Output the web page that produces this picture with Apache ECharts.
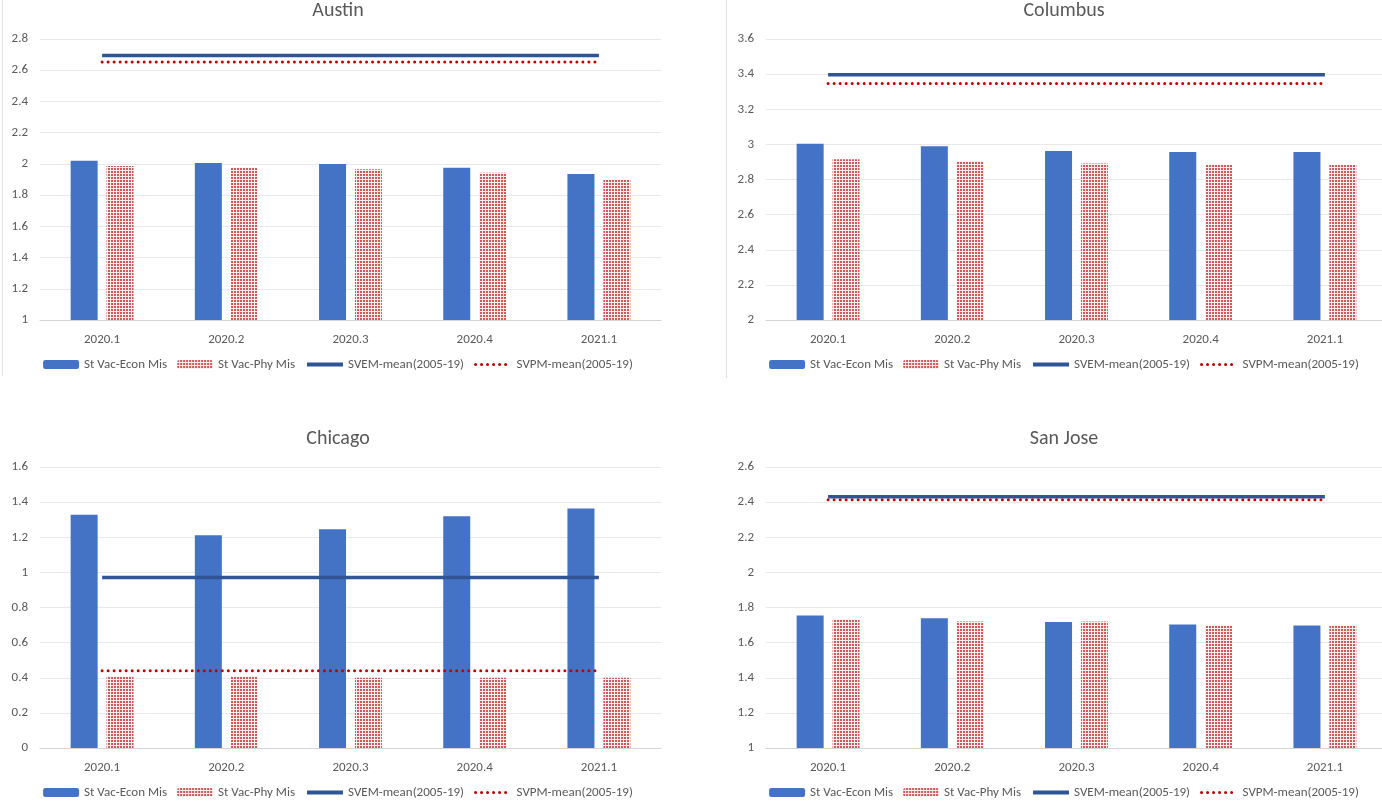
<!DOCTYPE html>
<html>
<head>
<meta charset="utf-8">
<script src="https://cdn.jsdelivr.net/npm/echarts@6/dist/echarts.min.js"></script>
<style>
html,body{margin:0;padding:0;width:1382px;height:804px;overflow:hidden;background:#fff;}
.panel{position:absolute;width:676px;height:376px;}
.border{position:absolute;width:1px;background:#e3e3e3;}
</style>
</head>
<body>
<div class="border" style="left:2px;top:0;height:376px;"></div>
<div class="border" style="left:726px;top:0;height:378px;"></div>
<div id="c1" class="panel" style="left:0;top:0;"></div>
<div id="c2" class="panel" style="left:726px;top:0;"></div>
<div id="c3" class="panel" style="left:0;top:428px;"></div>
<div id="c4" class="panel" style="left:726px;top:428px;"></div>
<script>
// ---- data ----
const categories = ['2020.1', '2020.2', '2020.3', '2020.4', '2021.1'];
const seriesNames = ['St Vac-Econ Mis', 'St Vac-Phy Mis', 'SVEM-mean(2005-19)', 'SVPM-mean(2005-19)'];

const austinEcon = [2.02, 2.005, 2.0, 1.975, 1.935];
const austinPhy  = [1.987, 1.976, 1.966, 1.944, 1.90];
const austinSVEM = [2.695, 2.695, 2.695, 2.695, 2.695];
const austinSVPM = [2.652, 2.652, 2.652, 2.652, 2.652];
const austinAxis = [1, 2.8, 0.2];

const columbusEcon = [3.004, 2.99, 2.962, 2.956, 2.956];
const columbusPhy  = [2.916, 2.905, 2.891, 2.882, 2.882];
const columbusSVEM = [3.396, 3.396, 3.396, 3.396, 3.396];
const columbusSVPM = [3.346, 3.346, 3.346, 3.346, 3.346];
const columbusAxis = [2, 3.6, 0.2];

const chicagoEcon = [1.328, 1.211, 1.245, 1.320, 1.364];
const chicagoPhy  = [0.408, 0.408, 0.400, 0.400, 0.400];
const chicagoSVEM = [0.971, 0.971, 0.971, 0.971, 0.971];
const chicagoSVPM = [0.44, 0.44, 0.44, 0.44, 0.44];
const chicagoAxis = [0, 1.6, 0.2];

const sanJoseEcon = [1.754, 1.739, 1.718, 1.703, 1.697];
const sanJosePhy  = [1.735, 1.72, 1.72, 1.699, 1.699];
const sanJoseSVEM = [2.43, 2.43, 2.43, 2.43, 2.43];
const sanJoseSVPM = [2.413, 2.413, 2.413, 2.413, 2.413];
const sanJoseAxis = [1, 2.6, 0.2];

// ---- pattern for dotted bars ----
function makePattern() {
  const c = document.createElement('canvas');
  c.width = 3; c.height = 3;
  const ctx = c.getContext('2d');
  ctx.fillStyle = '#fdeeee';
  ctx.fillRect(0, 0, 3, 3);
  ctx.fillStyle = '#cc5a5a';
  ctx.fillRect(0, 0, 2, 2);
  return c;
}
const pattern = makePattern();

const FONT = 'Carlito, "Liberation Sans", Arial, sans-serif';
const TXT = '#595959';

function build(id, title, econ, phy, svem, svpm, axis) {
  const chart = echarts.init(document.getElementById(id));
  chart.setOption({
    animation: false,
    textStyle: { fontFamily: FONT },
    title: {
      text: title, left: 'center', top: 1, padding: 0,
      textStyle: { fontFamily: FONT, fontSize: 20, fontWeight: 'normal', color: TXT }
    },
    legend: {
      data: [
        { name: seriesNames[0] },
        { name: seriesNames[1] },
        { name: seriesNames[2], itemStyle: { opacity: 0 }, lineStyle: { width: 4 } },
        { name: seriesNames[3], itemStyle: { opacity: 0 }, lineStyle: { width: 3 } }
      ],
      top: 358, left: 'center', padding: 0,
      itemWidth: 36, itemHeight: 9, itemGap: 10,
      textStyle: { fontFamily: FONT, fontSize: 13, color: TXT }
    },
    grid: { left: 40, right: 15, top: 39, height: 281 },
    xAxis: {
      type: 'category', data: categories,
      axisLine: { lineStyle: { color: '#d4d4d4', width: 1 } },
      axisTick: { show: false },
      axisLabel: { color: TXT, fontSize: 13, margin: 13, fontFamily: FONT }
    },
    yAxis: {
      type: 'value', min: axis[0], max: axis[1], interval: axis[2],
      axisLine: { show: false }, axisTick: { show: false },
      axisLabel: { color: TXT, fontSize: 13, margin: 12, fontFamily: FONT },
      splitLine: { lineStyle: { color: '#e9e9e9', width: 1 } }
    },
    series: [
      { name: seriesNames[0], type: 'bar', data: econ, barWidth: 27, barGap: '33%',
        itemStyle: { color: '#4472C4' } },
      { name: seriesNames[1], type: 'bar', data: phy, barWidth: 27,
        itemStyle: { color: { image: pattern, repeat: 'repeat' } } },
      { name: seriesNames[2], type: 'line', data: svem, symbol: 'none',
        lineStyle: { color: '#2F5597', width: 3.5 }, itemStyle: { color: '#2F5597' } },
      { name: seriesNames[3], type: 'line', data: svpm, symbol: 'none',
        lineStyle: { color: '#C00000', width: 3, type: [0.01, 6], cap: 'round' }, itemStyle: { color: '#C00000' } }
    ]
  });
}

build('c1', 'Austin', austinEcon, austinPhy, austinSVEM, austinSVPM, austinAxis);
build('c2', 'Columbus', columbusEcon, columbusPhy, columbusSVEM, columbusSVPM, columbusAxis);
build('c3', 'Chicago', chicagoEcon, chicagoPhy, chicagoSVEM, chicagoSVPM, chicagoAxis);
build('c4', 'San Jose', sanJoseEcon, sanJosePhy, sanJoseSVEM, sanJoseSVPM, sanJoseAxis);
</script>
</body>
</html>
